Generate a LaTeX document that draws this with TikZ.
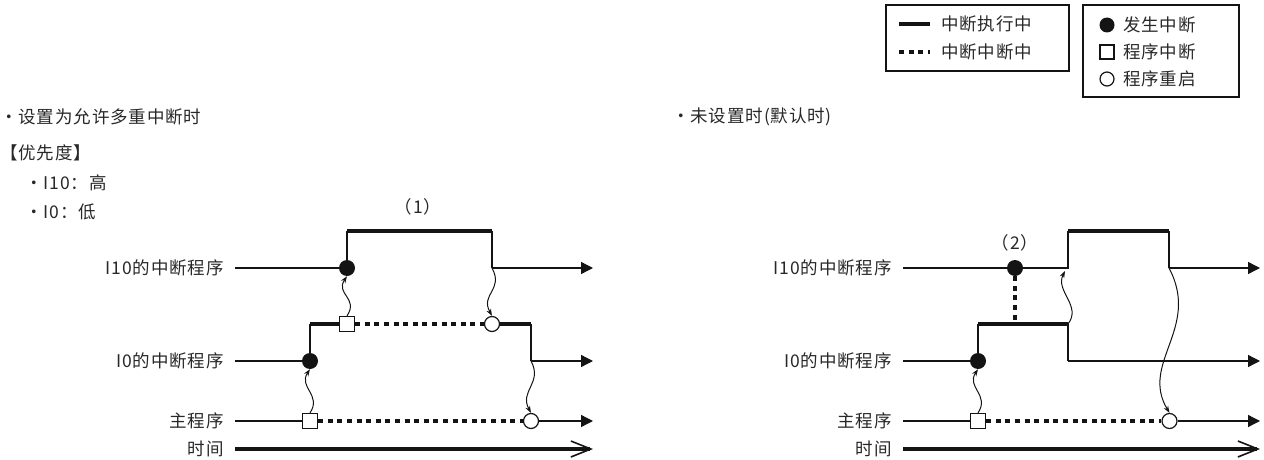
\documentclass[tikz,border=0pt]{standalone}
\usepackage{fontspec}
\setmainfont{Noto Sans CJK SC}[LetterSpace=5]
\usetikzlibrary{arrows.meta}
\definecolor{inkgray}{RGB}{40,40,40}
\definecolor{linegray}{RGB}{20,20,20}
\tikzset{
  txt/.style={font=\fontsize{17.5}{20}\selectfont, text=inkgray, inner sep=0pt},
  lbl/.style={txt, anchor=east},
  sigline/.style={draw=linegray, line width=1.3pt},
  runline/.style={draw=linegray, line width=3.4pt},
  holdline/.style={draw=linegray, line width=3.4pt, dash pattern=on 5pt off 4.6pt},
  flowline/.style={sigline, -{Triangle[length=12pt,width=12pt]}},
  timeline/.style={draw=linegray, line width=3.4pt, -{Straight Barb[length=20pt,width=16pt,line width=1.6pt]}},
  jumpline/.style={draw=linegray, line width=1pt, -{Stealth[length=7pt,width=5pt]}},
  firedot/.style={circle, fill=linegray, inner sep=0pt, minimum size=16pt},
  pausebox/.style={rectangle, draw=linegray, fill=white, line width=1.2pt, inner sep=0pt, minimum size=15pt},
  resumedot/.style={circle, draw=linegray, fill=white, line width=1.2pt, inner sep=0pt, minimum size=15pt},
  keybox/.style={draw=linegray, line width=1.2pt}
}

\begin{document}
\begin{tikzpicture}[x=1pt,y=1pt]
  \useasboundingbox (0,0) rectangle (1264,459);

  % Legend: line styles
  \draw[keybox] (886,388) rectangle (1069,454);
  \coordinate (keyRunA) at (899,435);
  \coordinate (keyRunB) at (930,435);
  \draw[runline] (keyRunA) -- (keyRunB);
  \node[txt, anchor=west] (keyRun) at (941,435) {中断执行中};
  \coordinate (keyHoldA) at (899,407);
  \coordinate (keyHoldB) at (930,407);
  \draw[holdline] (keyHoldA) -- (keyHoldB);
  \node[txt, anchor=west] (keyHold) at (941,407) {中断中断中};

  % Legend: event marks
  \draw[keybox] (1083,362) rectangle (1239,454);
  \node[firedot, minimum size=15pt] (keyFire) at (1107,434) {};
  \node[txt, anchor=west] at (1123,434) {发生中断};
  \node[pausebox, minimum size=14pt] (keyPause) at (1107,407) {};
  \node[txt, anchor=west] at (1123,407) {程序中断};
  \node[resumedot, minimum size=14pt] (keyResume) at (1107,380) {};
  \node[txt, anchor=west] at (1123,380) {程序重启};

  % Headings
  \node[txt, anchor=west] (headL) at (0,342) {・设置为允许多重中断时};
  \node[txt, anchor=west] (headR) at (672,342) {・未设置时(默认时)};
  \node[txt, anchor=west] (prio) at (0,306) {【优先度】};
  \node[txt, anchor=west] (prioHi) at (25,276) {・I10：高};
  \node[txt, anchor=west] (prioLo) at (25,247) {・I0：低};

  % ---------------- Left: nesting allowed ----------------
  \node[lbl] (hiL) at (224,191) {I10的中断程序};
  \node[lbl] (loL) at (224,98) {I0的中断程序};
  \node[lbl] (mainL) at (224,38) {主程序};
  \node[lbl] (timeL) at (224,10) {时间};
  \coordinate (hiL0) at (235,191);   \coordinate (hiL9) at (593,191);
  \coordinate (loL0) at (235,98);    \coordinate (loL9) at (593,98);
  \coordinate (mainL0) at (235,38);  \coordinate (mainL9) at (593,38);
  \coordinate (timeL0) at (235,10);  \coordinate (timeL9) at (593,10);

  % events
  \node[pausebox] (stopMainL) at (310,38) {};
  \node[firedot] (fireLoL) at (310,98) {};
  \coordinate (riseLoL) at (310,135);
  \node[pausebox] (stopLoL) at (347,135) {};
  \node[firedot] (fireHiL) at (347,191) {};
  \coordinate (riseHiL) at (347,228);
  \coordinate (fallHiL) at (492,228);
  \coordinate (backHiL) at (492,191);
  \node[resumedot] (resLoL) at (492,135) {};
  \coordinate (fallLoL) at (531,135);
  \coordinate (backLoL) at (531,98);
  \node[resumedot] (resMainL) at (531,38) {};
  \node[txt] (markA) at (418,252) {（1）};

  % I10 line
  \draw[sigline] (hiL0) -- (fireHiL) (fireHiL) -- (riseHiL);
  \draw[runline] (riseHiL) -- (fallHiL);
  \draw[sigline] (fallHiL) -- (backHiL);
  \draw[flowline] (backHiL) -- (hiL9);
  % I0 line
  \draw[sigline] (loL0) -- (fireLoL) (fireLoL) -- (riseLoL);
  \draw[runline] (riseLoL) -- (stopLoL);
  \draw[holdline] (stopLoL) -- (resLoL);
  \draw[runline] (resLoL) -- (fallLoL);
  \draw[sigline] (fallLoL) -- (backLoL);
  \draw[flowline] (backLoL) -- (loL9);
  % main line
  \draw[sigline] (mainL0) -- (stopMainL);
  \draw[holdline] (stopMainL) -- (resMainL);
  \draw[flowline] (resMainL) -- (mainL9);
  \draw[timeline] (timeL0) -- (timeL9);
  % jumps
  \draw[jumpline] (stopMainL.north) .. controls +(12,18) and +(-12,-18) .. (fireLoL.south);
  \draw[jumpline] (stopLoL.north) .. controls +(12,18) and +(-12,-18) .. (fireHiL.south);
  \draw[jumpline] (backHiL) .. controls +(12,-22) and +(-12,22) .. (resLoL.north);
  \draw[jumpline] (backLoL) .. controls +(12,-22) and +(-12,22) .. (resMainL.north);

  % ---------------- Right: default ----------------
  \node[lbl] (hiR) at (892,191) {I10的中断程序};
  \node[lbl] (loR) at (892,98) {I0的中断程序};
  \node[lbl] (mainR) at (892,38) {主程序};
  \node[lbl] (timeR) at (892,10) {时间};
  \coordinate (hiR0) at (903,191);   \coordinate (hiR9) at (1260,191);
  \coordinate (loR0) at (903,98);    \coordinate (loR9) at (1260,98);
  \coordinate (mainR0) at (903,38);  \coordinate (mainR9) at (1260,38);
  \coordinate (timeR0) at (903,10);  \coordinate (timeR9) at (1260,10);

  % events
  \node[pausebox] (stopMainR) at (978,38) {};
  \node[firedot] (fireLoR) at (978,98) {};
  \coordinate (riseLoR) at (978,135);
  \node[firedot] (fireHiR) at (1015,191) {};
  \coordinate (holdHiR) at (1015,135);
  \coordinate (swapLo) at (1068,135);
  \coordinate (dropLoR) at (1068,98);
  \coordinate (swapHi) at (1068,191);
  \coordinate (riseHiR) at (1068,228);
  \coordinate (fallHiR) at (1169,228);
  \coordinate (backHiR) at (1169,191);
  \coordinate (wakeTip) at (1065,188);
  \node[resumedot] (resMainR) at (1169.5,38) {};
  \node[txt] (markB) at (1015,216) {（2）};

  % I10 line
  \draw[sigline] (hiR0) -- (fireHiR) (fireHiR) -- (swapHi) -- (riseHiR);
  \draw[runline] (riseHiR) -- (fallHiR);
  \draw[sigline] (fallHiR) -- (backHiR);
  \draw[flowline] (backHiR) -- (hiR9);
  \draw[holdline] (fireHiR) -- (holdHiR);
  % I0 line
  \draw[sigline] (loR0) -- (fireLoR) (fireLoR) -- (riseLoR);
  \draw[runline] (riseLoR) -- (swapLo);
  \draw[sigline] (swapLo) -- (dropLoR);
  \draw[flowline] (dropLoR) -- (loR9);
  % main line
  \draw[sigline] (mainR0) -- (stopMainR);
  \draw[holdline] (stopMainR) -- (resMainR);
  \draw[flowline] (resMainR) -- (mainR9);
  \draw[timeline] (timeR0) -- (timeR9);
  % jumps
  \draw[jumpline] (stopMainR.north) .. controls +(12,18) and +(-12,-18) .. (fireLoR.south);
  \draw[jumpline] (swapLo) .. controls +(14,18) and +(-10,-20) .. (wakeTip);
  \draw[jumpline] (backHiR) .. controls +(32,-60) and +(-30,50) .. (resMainR.north);
\end{tikzpicture}
\end{document}
